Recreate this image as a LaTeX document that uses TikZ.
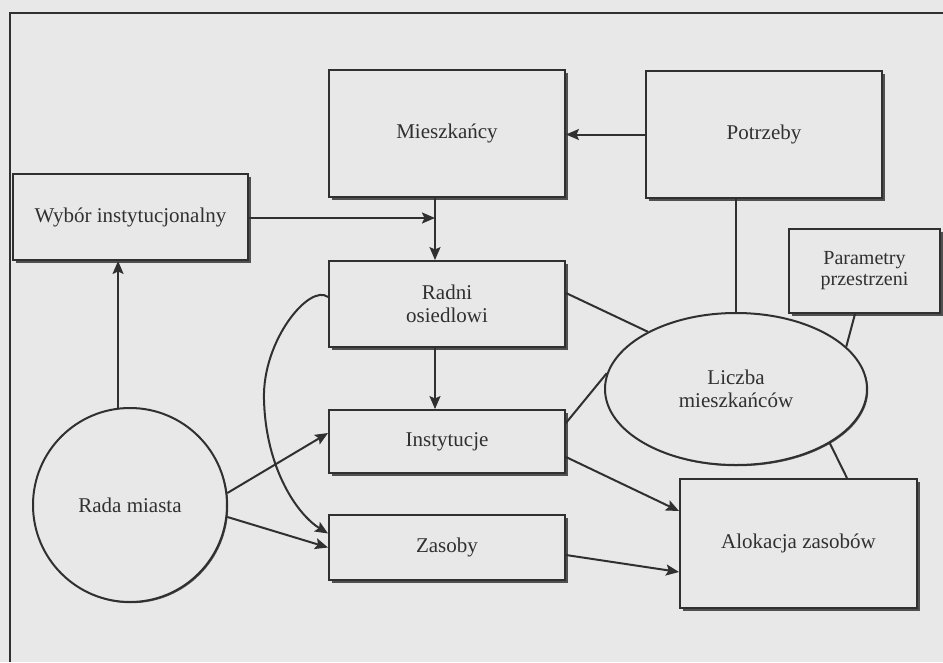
\documentclass[tikz,border=0pt]{standalone}
\usepackage{fontspec}
\setmainfont{Liberation Serif}
\usetikzlibrary{arrows.meta,shapes.geometric,shadows,calc}
\definecolor{bg}{HTML}{E8E8E8}
\definecolor{ink}{HTML}{303030}
\definecolor{shade}{HTML}{505050}
\begin{document}
\begin{tikzpicture}[x=1pt,y=-1pt,
  every node/.style={font=\fontsize{21}{23.5}\selectfont, text=ink, align=center},
  box/.style={rectangle, draw=ink, fill=bg, line width=1.9pt, inner sep=0pt,
    general shadow={shadow xshift=2.5pt, shadow yshift=-2.5pt, fill=shade}},
  oval/.style={ellipse, draw=ink, fill=bg, line width=2pt, inner sep=0pt,
    general shadow={shadow xshift=1.2pt, shadow yshift=-1.2pt, fill=shade}},
  link/.style={draw=ink, line width=2pt},
  arr/.style={link, -{Stealth[length=13pt,width=11pt,inset=2.5pt]}}]

% canvas and frame
\useasboundingbox[fill=bg] (0,0) rectangle (943,662);
\draw[ink, line width=2.4pt] (943,13) -- (10,13) -- (10,662);

% boxes
\node[box, minimum width=236pt, minimum height=127pt] (mieszk) at (447,133.5) {Mieszkańcy};
\node[box, minimum width=236pt, minimum height=127pt] (potrz) at (764,134.5) {Potrzeby};
\node[box, minimum width=235pt, minimum height=86pt] (wybor) at (130.5,217) {Wybór instytucjonalny};
\node[box, minimum width=236pt, minimum height=86pt] (radni) at (447,304) {Radni\\osiedlowi};
\node[box, minimum width=236pt, minimum height=63pt] (inst) at (447,441.5) {Instytucje};
\node[box, minimum width=236pt, minimum height=65pt] (zasoby) at (447,547.5) {Zasoby};
\node[box, minimum width=237pt, minimum height=129pt] (alok) at (798.5,543.5) {Alokacja zasobów};
\node[box, minimum width=151pt, minimum height=84pt, font=\fontsize{20}{21}\selectfont] (param) at (864.5,271) {Parametry\\przestrzeni};

% round nodes
\node[oval, minimum width=262pt, minimum height=152pt] (liczba) at (736,389) {Liczba\\mieszkańców};
\node[oval, circle, minimum size=194pt] (rada) at (130,505) {Rada miasta};

% junction of the two inputs of the councillors
\coordinate (jn) at (435,218);

% arrows
\draw[arr] (potrz.west) -- (mieszk.east |- potrz.west);
\draw[arr] (mieszk.south -| jn) -- (radni.north -| jn);
\draw[arr] (wybor.east |- jn) -- (jn);
\draw[arr] (rada.97.7) -- (rada.97.7 |- wybor.south);
\draw[arr] (rada.7.6) -- ([yshift=8.5pt]inst.west);
\draw[arr] (rada.-7) -- (zasoby.west);
\draw[arr] (radni.south -| jn) -- (inst.north -| jn);
\draw[arr] ([yshift=7pt]radni.west) .. controls (310,283) and (262,340) .. (264,400)
  .. controls (266,470) and (298,515) .. ([yshift=14pt]zasoby.west);
\draw[arr] ([yshift=-15.5pt]inst.east) -- ([yshift=32.5pt]alok.west);
\draw[arr] ([yshift=-7.5pt]zasoby.east) -- ([yshift=-28.5pt]alok.west);

% plain links to the population
\draw[link] ([yshift=11pt]radni.east) -- (liczba.147);
\draw[link] ([yshift=18.5pt]inst.east) -- (liczba.173.4);
\draw[link] (potrz.south -| liczba.north) -- (liczba.north);
\draw[link] ([xshift=-9.5pt]param.south) -- (liczba.21.6);
\draw[link] (liczba.-30) -- ([xshift=48.5pt]alok.north);
\end{tikzpicture}
\end{document}
